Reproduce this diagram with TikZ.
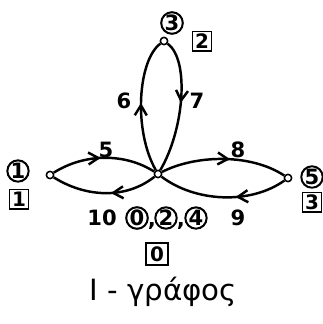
\documentclass[tikz,border=0pt]{standalone}
\usepackage{fontspec}
\setmainfont{DejaVu Sans}
\usetikzlibrary{arrows.meta,decorations.markings}
\begin{document}
\begin{tikzpicture}[x=0.03cm,y=-0.03cm,
  vert/.style={circle,draw,fill=white,line width=1.3pt,inner sep=0pt,minimum size=0.22cm},
  edge/.style={line width=2.1pt},
  midarrow/.style={decoration={markings,mark=at position #1 with {\arrow{Straight Barb[length=3mm,width=3.6mm,line width=2.1pt]}}},postaction=decorate},
  lab/.style={font=\fontsize{18}{20}\selectfont\bfseries,inner sep=0pt},
  circnum/.style={circle,draw,line width=1.7pt,inner sep=0pt,minimum size=0.64cm,font=\fontsize{18}{20}\selectfont\bfseries},
  boxnum/.style={rectangle,draw,line width=1.7pt,inner sep=0pt,minimum size=0.57cm,font=\fontsize{17}{19}\selectfont\bfseries},
  comma/.style={inner sep=0pt,font=\fontsize{18}{20}\selectfont\bfseries}
]
\useasboundingbox (0,0) rectangle (322,324);
% vertices
\node[vert] (c) at (158,174) {};
\node[vert] (l) at (50,175) {};
\node[vert] (r) at (288,178) {};
\node[vert] (t) at (164,41) {};
% edges
\draw[edge,midarrow=0.47] (l) .. controls (85,153) and (125,153) .. (c);
\draw[edge,midarrow=0.44] (c) .. controls (125,200) and (85,197) .. (l);
\draw[edge,midarrow=0.55] (c) .. controls (195,155) and (250,153) .. (r);
\draw[edge,midarrow=0.40] (r) .. controls (250,205) and (195,202) .. (c);
\draw[edge,midarrow=0.52] (c) .. controls (133,130) and (138,60) .. (t);
\draw[edge,midarrow=0.47] (t) .. controls (190,60) and (184,130) .. (c);
% edge labels
\node[lab] (e5) at (106,150) {5};
\node[lab] (e10) at (102,218) {10};
\node[lab] (e8) at (238,150) {8};
\node[lab] (e9) at (238,218) {9};
\node[lab] (e6) at (124,101) {6};
\node[lab] (e7) at (197,101) {7};
% vertex labels
\node[circnum] (n3) at (172,23) {3};
\node[boxnum] (b2) at (202,41) {2};
\node[circnum] (n1) at (18,171) {1};
\node[boxnum] (b1) at (19,199) {1};
\node[circnum] (n5) at (312,177) {5};
\node[boxnum] (b3) at (312,202) {3};
\node[circnum] (n0) at (137,218) {0};
\node[comma] (k1) at (152,226) {,};
\node[circnum] (n2) at (166,218) {2};
\node[comma] (k2) at (181,226) {,};
\node[circnum] (n4) at (196,218) {4};
\node[boxnum,minimum size=0.66cm] (b0) at (157,254) {0};
% caption
\node[inner sep=0pt,font=\fontsize{25}{28}\selectfont] (cap) at (163,292) {I - γράφος};
\end{tikzpicture}
\end{document}
